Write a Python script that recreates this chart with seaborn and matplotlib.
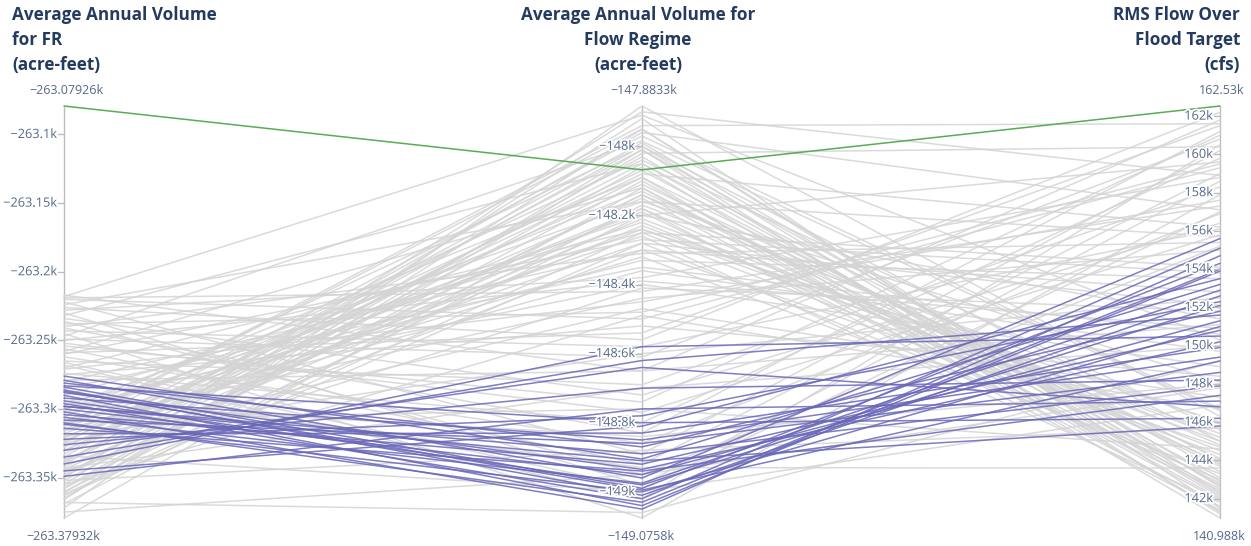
import numpy as np
import pandas as pd
import matplotlib
matplotlib.use("Agg")
import matplotlib.pyplot as plt
import matplotlib.patheffects as pe
import seaborn as sns

sns.set_theme(style="white")
plt.rcParams["font.family"] = ["Open Sans", "DejaVu Sans"]

# Axis titles (one list per line of the header)
titles = [
    ["Average Annual Volume", "for FR", "(acre-feet)"],
    ["Average Annual Volume for", "Flow Regime", "(acre-feet)"],
    ["RMS Flow Over", "Flood Target", "(cfs)"],
]

# Tick values shown on each axis
ticks_fr = [-263100, -263150, -263200, -263250, -263300, -263350]
ticks_regime = [-148000, -148200, -148400, -148600, -148800, -149000]
ticks_rms = [142000, 144000, 146000, 148000, 150000, 152000, 154000, 156000,
             158000, 160000, 162000]

# Highlighted solution
best_fr = [-263079.26]
best_regime = [-148068]
best_rms = [162530]

# Selected (brushed) solutions
sel_fr = [-263276, -263279, -263281, -263284, -263286, -263288, -263290, -263292,
          -263294, -263296, -263298, -263300, -263302, -263304, -263306, -263308,
          -263311, -263314, -263318, -263322, -263326, -263330, -263335, -263340,
          -263345, -263349, -263298, -263287, -263283, -263310]
sel_regime = [-148905, -148960, -148870, -148990, -149010, -148935, -149040, -148850,
              -148980, -149020, -148890, -148950, -149050, -148920, -148975, -148860,
              -149000, -148940, -148830, -148780, -148700, -148640, -148620, -148580,
              -148810, -148760, -148910, -148995, -148800, -149030]
sel_rms = [153200, 155600, 151800, 154300, 152600, 150200, 153900, 149400,
           152100, 155100, 147900, 151300, 154700, 150800, 152900, 148600,
           151000, 147400, 149900, 152300, 148200, 146800, 151600, 150500,
           153500, 147100, 145800, 149200, 146200, 154000]

# Remaining solutions
other_fr = [-263379.32, -263372, -263366, -263361, -263357, -263352, -263348, -263344,
            -263340, -263337, -263333, -263330, -263327, -263324, -263321, -263318,
            -263315, -263312, -263309, -263306, -263303, -263369, -263363, -263355,
            -263346, -263338, -263325, -263316, -263358, -263342,
            -263217, -263219, -263222, -263226, -263230, -263234, -263238, -263241,
            -263245, -263249, -263252, -263256, -263259, -263262, -263265, -263268,
            -263271, -263274, -263236, -263228, -263243, -263254, -263266, -263220,
            -263280, -263285, -263290, -263295, -263300, -263305, -263310, -263315,
            -263320, -263325, -263260, -263250, -263240, -263275, -263345, -263355,
            -263350, -263335, -263365, -263328, -263312, -263298, -263360,
            -263218, -263232, -263247, -263258, -263270, -263224,
            -263375, -263368, -263352, -263343, -263334, -263320, -263308, -263296,
            -263287, -263279,
            -263331, -263349, -263301, -263362, -263323, -263339, -263313]
other_regime = [-148120, -147883.3, -147950, -148010, -148060, -148140, -148030, -148180,
                -148090, -148210, -147990, -148150, -148240, -148070, -148110, -148190,
                -148040, -148260, -148130, -148000, -148220, -148170, -148280, -147920,
                -148300, -148050, -147970, -148320, -148100, -148230,
                -148650, -148420, -148890, -148560, -148980, -148720, -148480, -148830,
                -149075.8, -148610, -148770, -148920, -148540, -148860, -148690, -149020,
                -148450, -148800, -148950, -148380, -148580, -148740, -148990, -148500,
                -148300, -148350, -148250, -148400, -148330, -148200, -148440, -148360,
                -148280, -148470, -148270, -148390, -148310, -148520, -148410, -148490,
                -147900, -147960, -148020, -148080, -147940, -148160, -148200,
                -147910, -148050, -147985, -148120, -148240, -148160,
                -148950, -149060, -148880, -148700, -149000, -148600, -148760, -148840,
                -148930, -148650,
                -148010, -148140, -148090, -148250, -148180, -148000, -147950]
other_rms = [141900, 146300, 142600, 143400, 141300, 144800, 142100, 143900,
             140988, 145200, 142900, 141600, 146000, 143100, 144100, 142400,
             145600, 141800, 143700, 142200, 144500, 145900, 143000, 141500,
             144700, 142700, 146700, 143300, 142000, 145400,
             161800, 157300, 160200, 162200, 158600, 156400, 159500, 161200,
             157900, 160800, 155800, 159000, 161500, 156900, 158300, 160500,
             157600, 159800, 155200, 158800, 156100, 161000, 157000, 159300,
             152800, 150600, 154100, 148900, 153500, 151400, 155000, 149700,
             152100, 147300, 153800, 150900, 155400, 148400, 151800, 146700,
             158900, 157100, 160400, 156200, 161600, 155700, 159600,
             150300, 144000, 146600, 142800, 145000, 148100,
             147800, 149200, 145700, 150000, 146900, 152500, 144600, 148000,
             143600, 151100,
             141200, 142500, 143800, 144300, 141400, 145000, 142300]

columns = ["fr", "regime", "rms"]
groups = {
    "other": (other_fr, other_regime, other_rms),
    "selected": (sel_fr, sel_regime, sel_rms),
    "best": (best_fr, best_regime, best_rms),
}

frames = []
for name, (a, b, c) in groups.items():
    frames.append(pd.DataFrame({"fr": a, "regime": b, "rms": c, "group": name}))
wide = pd.concat(frames, ignore_index=True)
wide["row"] = np.arange(len(wide))

lo = {c: wide[c].min() for c in columns}
hi = {c: wide[c].max() for c in columns}

long = wide.melt(id_vars=["row", "group"], value_vars=columns,
                 var_name="dim", value_name="value")
long["axis"] = long["dim"].map({c: i for i, c in enumerate(columns)})
long["pos"] = [(v - lo[d]) / (hi[d] - lo[d]) for v, d in zip(long["value"], long["dim"])]
long = long.sort_values(["row", "axis"])

W, H = 1251, 546
x0, x1, y0, y1 = 64, 1220, 106, 518
fig = plt.figure(figsize=(W / 100, H / 100), dpi=100)
ax = fig.add_axes([x0 / W, 1 - y1 / H, (x1 - x0) / W, (y1 - y0) / H])
ax.set_xlim(0, 2)
ax.set_ylim(0, 1)
ax.axis("off")

styles = {
    "other": dict(color="#d4d4d4", alpha=0.85, zorder=2),
    "selected": dict(color="#6a67b8", alpha=0.85, zorder=3),
    "best": dict(color="#5aab55", alpha=1.0, zorder=4),
}
for name in ["other", "selected", "best"]:
    sub = long[long["group"] == name]
    st = styles[name]
    sns.lineplot(data=sub, x="axis", y="pos", units="row", estimator=None,
                 sort=False, color=st["color"], alpha=st["alpha"], lw=1.1,
                 legend=False, ax=ax, zorder=st["zorder"])
for ln in ax.lines:
    ln.set_clip_on(False)

axis_col = "#bdbdbd"
tick_col = "#56688a"
title_col = "#243a5e"
px = 2 / (x1 - x0)  # data units per pixel along x
halo = [pe.withStroke(linewidth=2.5, foreground="white")]


def fmt_tick(v):
    s = f"{v / 1000:g}k"
    return s.replace("-", "\u2212")


def fmt_range(v):
    s = f"{v / 1000:.5f}".rstrip("0").rstrip(".") + "k"
    return s.replace("-", "\u2212")


all_ticks = [ticks_fr, ticks_regime, ticks_rms]
for i, c in enumerate(columns):
    ax.plot([i, i], [0, 1], color=axis_col, lw=1.0, zorder=1, clip_on=False)
    for t in all_ticks[i]:
        p = (t - lo[c]) / (hi[c] - lo[c])
        ax.plot([i - 6 * px, i], [p, p], color=axis_col, lw=1.0, zorder=5, clip_on=False)
        ax.text(i - 7 * px, p, fmt_tick(t), ha="right", va="center", fontsize=9.2,
                color=tick_col, zorder=6, path_effects=halo)
    ax.text(i + 2 * px, 1 + 16 / (y1 - y0), fmt_range(hi[c]), ha="center", va="center",
            fontsize=9, color=tick_col)
    ax.text(i - 1 * px, -19 / (y1 - y0), fmt_range(lo[c]), ha="center", va="center",
            fontsize=9, color=tick_col)

# Headers
line_y = [15, 40, 65]
header_x = [12, 638, 1240]
header_ha = ["left", "center", "right"]
for lines, hx, ha in zip(titles, header_x, header_ha):
    for txt, ly in zip(lines, line_y):
        fig.text(hx / W, 1 - ly / H, txt, ha=ha, va="center", fontsize=12.3,
                 fontweight="bold", color=title_col)

fig.savefig("out.png", dpi=100, facecolor="white")
